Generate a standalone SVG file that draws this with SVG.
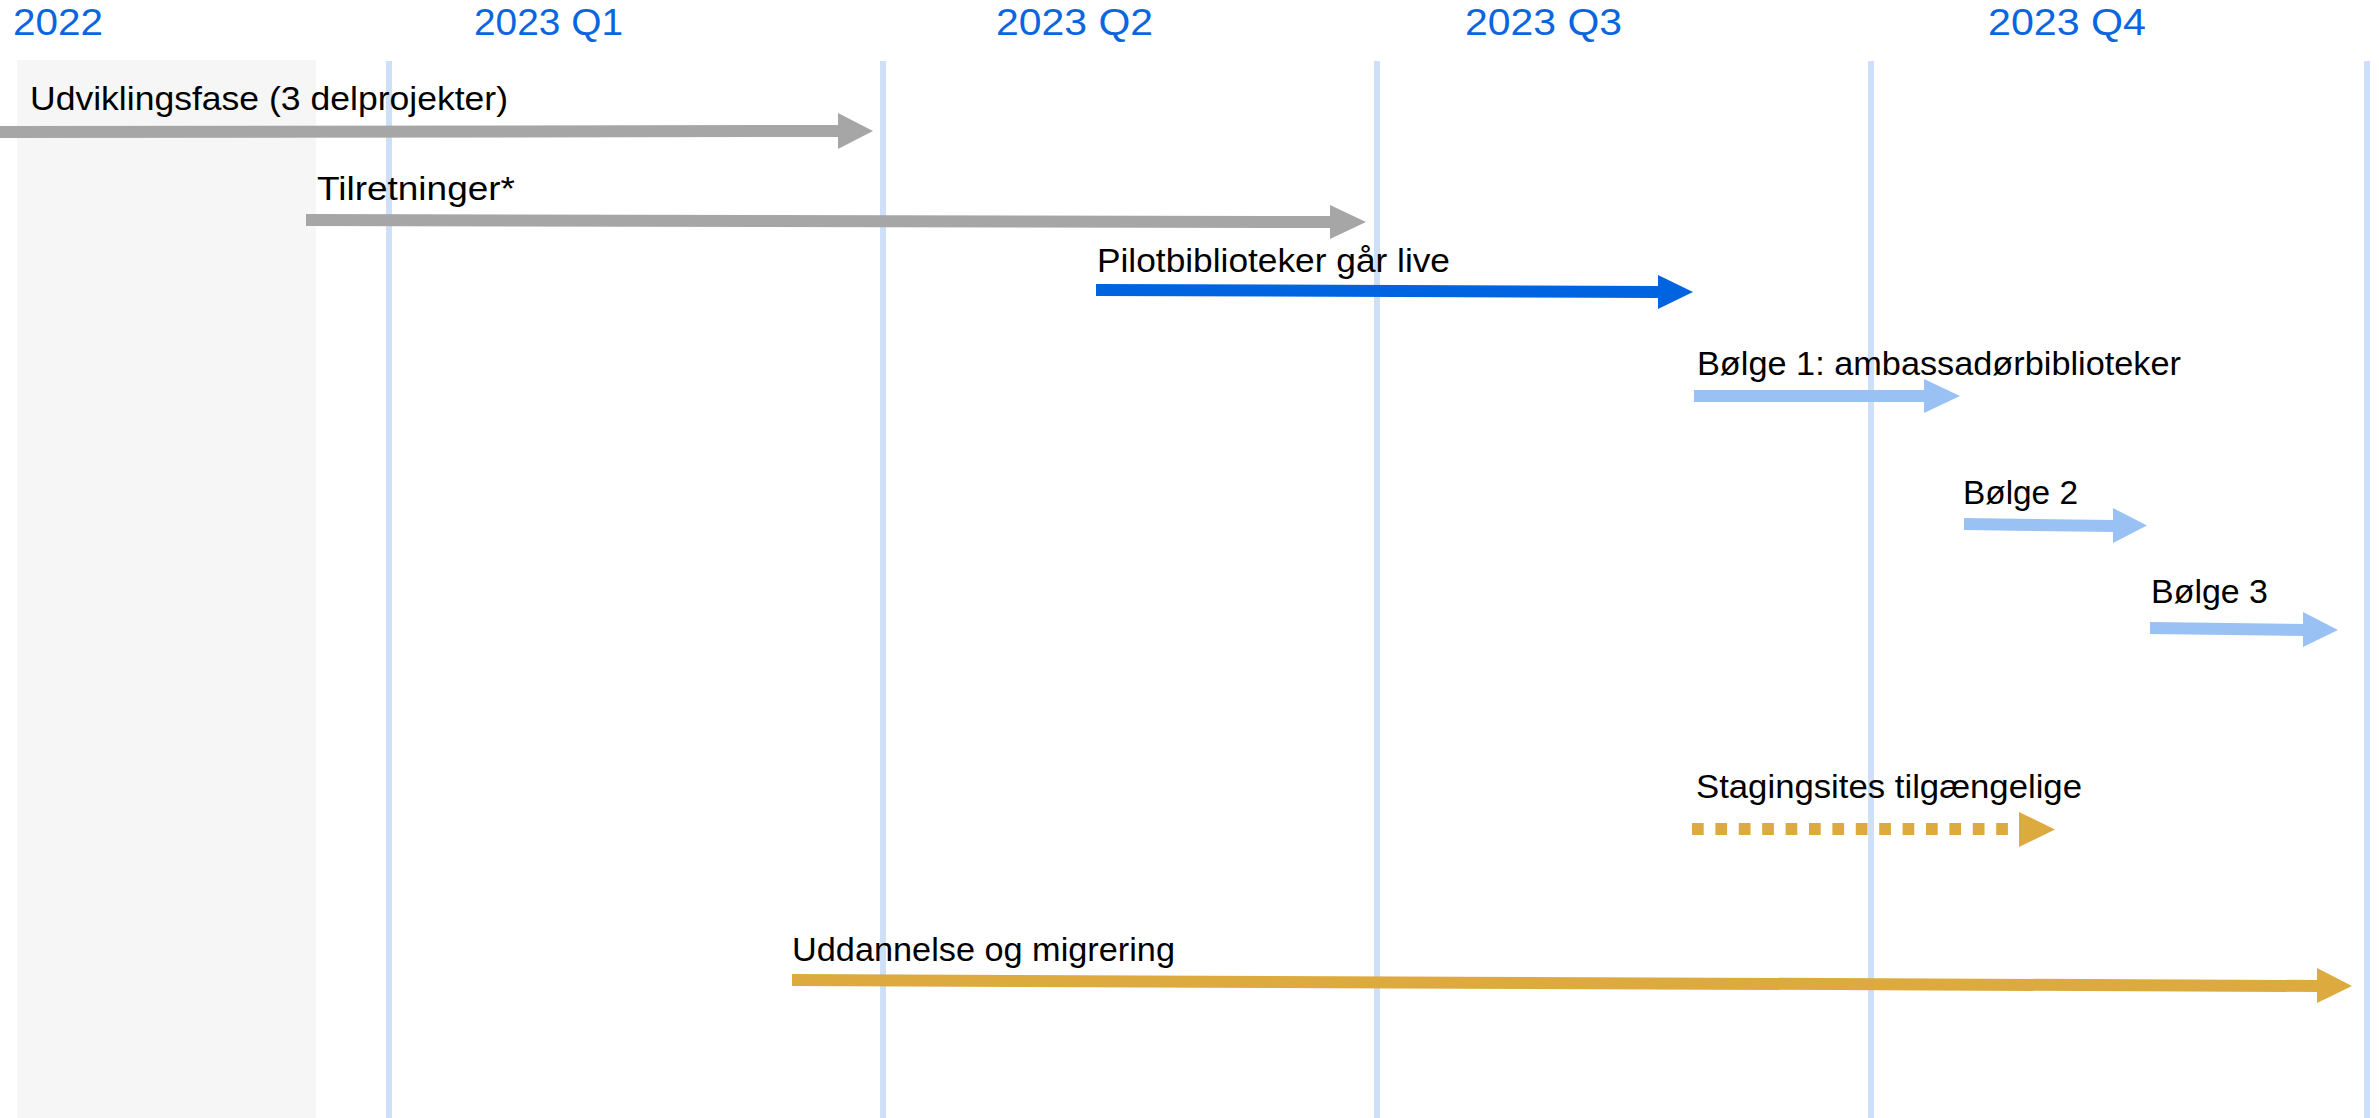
<svg xmlns="http://www.w3.org/2000/svg" width="2379" height="1118" viewBox="0 0 2379 1118">
<style>
.hdr{font-family:"Liberation Sans",Arial,sans-serif;font-size:36px;fill:#0a66e0}
.lbl{font-family:"Liberation Sans",Arial,sans-serif;font-size:34px;fill:#000}
.grid{stroke:#cde0f7;stroke-width:6}
.grey{fill:#a6a6a6;stroke:#a6a6a6}
.blue{fill:#0064e1;stroke:#0064e1}
.lblue{fill:#99c1f3;stroke:#99c1f3}
.gold{fill:#dcaa3e;stroke:#dcaa3e}
.shaft{stroke-width:12;fill:none}
.head{stroke:none}
</style>
<rect x="17" y="60" width="299" height="1058" fill="#f6f6f6"/>
<g id="grid">
<line class="grid" x1="389" y1="61" x2="389" y2="1118"/>
<line class="grid" x1="883" y1="61" x2="883" y2="1118"/>
<line class="grid" x1="1377" y1="61" x2="1377" y2="1118"/>
<line class="grid" x1="1871" y1="61" x2="1871" y2="1118"/>
<line class="grid" x1="2367" y1="61" x2="2367" y2="1118"/>
</g>
<g id="headers">
<text class="hdr" x="13" y="35" textLength="90" lengthAdjust="spacingAndGlyphs">2022</text>
<text class="hdr" x="474" y="35" textLength="149" lengthAdjust="spacingAndGlyphs">2023 Q1</text>
<text class="hdr" x="996" y="35" textLength="157" lengthAdjust="spacingAndGlyphs">2023 Q2</text>
<text class="hdr" x="1465" y="35" textLength="157" lengthAdjust="spacingAndGlyphs">2023 Q3</text>
<text class="hdr" x="1988" y="35" textLength="158" lengthAdjust="spacingAndGlyphs">2023 Q4</text>
</g>
<g id="connectors">
<g id="arrow-udvikling" class="grey"><path class="shaft" d="M0 132 L840 131"/><polygon class="head" points="838,113 873,131 838,149"/></g>
<g id="arrow-tilretninger" class="grey"><path class="shaft" d="M306 220 L1332 222"/><polygon class="head" points="1330,205 1366,222 1330,239"/></g>
<g id="arrow-pilot" class="blue"><path class="shaft" d="M1096 290 L1660 292"/><polygon class="head" points="1658,275 1693,292 1658,309"/></g>
<g id="arrow-boelge1" class="lblue"><path class="shaft" d="M1694 396 L1926 396"/><polygon class="head" points="1924,379 1960,396 1924,413"/></g>
<g id="arrow-boelge2" class="lblue"><path class="shaft" d="M1964 524 L2115 526"/><polygon class="head" points="2113,508 2147,525.5 2113,543"/></g>
<g id="arrow-boelge3" class="lblue"><path class="shaft" d="M2150 628 L2305 630"/><polygon class="head" points="2303,612 2338,630 2303,647"/></g>
<g id="arrow-staging" class="gold"><path class="shaft" d="M1692 829 L2018 829" stroke-width="11" stroke-dasharray="11.7 11.7"/><polygon class="head" points="2019,812 2055,829.5 2019,847"/></g>
<g id="arrow-uddannelse" class="gold"><path class="shaft" d="M792 980 L2319 986"/><polygon class="head" points="2317,968 2352,986 2317,1003"/></g>
</g>
<g id="node-udvikling"><text class="lbl" x="30" y="110" textLength="478" lengthAdjust="spacingAndGlyphs">Udviklingsfase (3 delprojekter)</text></g>
<g id="node-tilretninger"><text class="lbl" x="317" y="200" textLength="198" lengthAdjust="spacingAndGlyphs">Tilretninger*</text></g>
<g id="node-pilot"><text class="lbl" x="1097" y="272" textLength="353" lengthAdjust="spacingAndGlyphs">Pilotbiblioteker går live</text></g>
<g id="node-boelge1"><text class="lbl" x="1697" y="375" textLength="484" lengthAdjust="spacingAndGlyphs">Bølge 1: ambassadørbiblioteker</text></g>
<g id="node-boelge2"><text class="lbl" x="1963" y="504" textLength="115" lengthAdjust="spacingAndGlyphs">Bølge 2</text></g>
<g id="node-boelge3"><text class="lbl" x="2151" y="603" textLength="117" lengthAdjust="spacingAndGlyphs">Bølge 3</text></g>
<g id="node-staging"><text class="lbl" x="1696" y="798" textLength="386" lengthAdjust="spacingAndGlyphs">Stagingsites tilgængelige</text></g>
<g id="node-uddannelse"><text class="lbl" x="792" y="961" textLength="383" lengthAdjust="spacingAndGlyphs">Uddannelse og migrering</text></g>
</svg>
